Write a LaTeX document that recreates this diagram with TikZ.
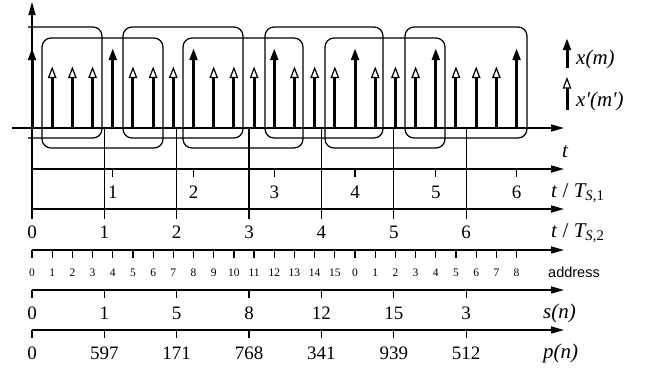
\documentclass[tikz,border=0pt]{standalone}
\usepackage{fontspec}
\setmainfont{Liberation Serif}
\newfontfamily\addrfont{Liberation Sans}
\usetikzlibrary{arrows.meta}
\begin{document}
\begin{tikzpicture}[x=1pt,y=-1pt,
  axis/.style={line width=1.6pt,-{Triangle[length=13pt,width=7pt]}},
  tickln/.style={line width=1.2pt},
  win/.style={line width=1.2pt,rounded corners=9pt},
  solidimp/.style={line width=3pt,-{Triangle[length=12pt,width=7.5pt]}},
  hollowimp/.style={line width=3pt,-{Triangle[open,length=11.5pt,width=8.5pt,line width=1.2pt,fill=white]}},
  num/.style={font=\fontsize{19}{19}\selectfont,inner sep=0pt},
  lbl/.style={font=\fontsize{21}{21}\selectfont\itshape,inner sep=0pt,anchor=west},
  smallnum/.style={font=\fontsize{11.5}{12}\selectfont,inner sep=0pt}
]
\useasboundingbox (0,0) rectangle (645,367);
% windows
\draw[win] (28,27) -- (102,27) -- (102,138) -- (28,138);
\draw[win] (123,27) rectangle (243,138);
\draw[win] (265,27) rectangle (383,138);
\draw[win] (405,27) rectangle (527,138);
\draw[win] (42,38) rectangle (163,148);
\draw[win] (183,38) rectangle (303,148);
\draw[win] (325,38) rectangle (445,148);
% main axes
\coordinate (o) at (32,128);
\coordinate (vbot) at (32,219);
\coordinate (vtop) at (32,2);
\draw[axis] (vbot) -- (vtop);
\coordinate (tl) at (12,128);
\coordinate (tr) at (564,128);
\draw[axis] (tl) -- (tr);
\node[lbl] (tlab) at (562,152) {t};
% impulses
\foreach \k in {0,...,24}{
  \pgfmathsetmacro{\xx}{32+20.19*\k}
  \pgfmathtruncatemacro{\m}{mod(\k,4)}
  \coordinate (b\k) at (\xx,128);
  \ifnum\m=0
    \coordinate (s\k) at (\xx,48);
    \draw[solidimp] (b\k) -- (s\k);
  \else
    \coordinate (s\k) at (\xx,66.5);
    \draw[hollowimp] (b\k) -- (s\k);
  \fi
}
% t/T_S,1 axis
\coordinate (a1l) at (32,169);
\coordinate (a1r) at (564,169);
\draw[axis] (a1l) -- (a1r);
\foreach \j in {1,...,6}{
  \pgfmathsetmacro{\xx}{32+80.75*\j}
  \coordinate (u\j) at (\xx,169);
  \coordinate (v\j) at (\xx,177);
  \draw[tickln] (u\j) -- (v\j);
  \node[num] (n1\j) at (\xx,192) {\j};
}
\node[lbl] (ts1) at (551,193) {t\/ \upshape/ \itshape T\textsubscript{\itshape S\upshape,1}};
% t/T_S,2 axis and long vertical lines
\coordinate (a2l) at (32,209);
\coordinate (a2r) at (564,209);
\draw[axis] (a2l) -- (a2r);
\foreach \j in {1,...,6}{
  \pgfmathsetmacro{\xx}{32+72.35*\j}
  \coordinate (w\j) at (\xx,128);
  \coordinate (z\j) at (\xx,219);
  \draw[tickln] (w\j) -- (z\j);
}
\foreach \j in {0,...,6}{
  \pgfmathsetmacro{\xx}{32+72.35*\j}
  \node[num] (n2\j) at (\xx,232) {\j};
}
\node[lbl] (ts2) at (551,233) {t\/ \upshape/ \itshape T\textsubscript{\itshape S\upshape,2}};
% address axis
\coordinate (adl) at (32,250);
\coordinate (adr) at (564,250);
\draw[axis] (adl) -- (adr);
\foreach \k in {0,...,24}{
  \pgfmathsetmacro{\xx}{32+20.19*\k}
  \pgfmathtruncatemacro{\aa}{mod(\k,16)}
  \coordinate (p\k) at (\xx,250);
  \coordinate (q\k) at (\xx,258);
  \draw[tickln] (p\k) -- (q\k);
  \node[smallnum] (ad\k) at (\xx,273) {\aa};
}
\node[font=\addrfont\fontsize{14.5}{15}\selectfont,inner sep=0pt,anchor=west] (addr) at (548,272) {address};
% s(n) axis
\coordinate (snl) at (32,290);
\coordinate (snr) at (564,290);
\draw[axis] (snl) -- (snr);
\foreach \j/\v in {0/0,1/1,2/5,3/8,4/12,5/15,6/3}{
  \pgfmathsetmacro{\xx}{32+72.35*\j}
  \coordinate (sa\j) at (\xx,290);
  \coordinate (sb\j) at (\xx,298);
  \draw[tickln] (sa\j) -- (sb\j);
  \node[num] (sv\j) at (\xx,313) {\v};
}
\node[lbl] (sn) at (543,313) {s(n)};
% p(n) axis
\coordinate (pnl) at (32,330);
\coordinate (pnr) at (564,330);
\draw[axis] (pnl) -- (pnr);
\foreach \j/\v in {0/0,1/597,2/171,3/768,4/341,5/939,6/512}{
  \pgfmathsetmacro{\xx}{32+72.35*\j}
  \coordinate (pa\j) at (\xx,330);
  \coordinate (pb\j) at (\xx,338);
  \draw[tickln] (pa\j) -- (pb\j);
  \node[num] (pv\j) at (\xx,353) {\v};
}
\node[lbl] (pn) at (543,353) {p(n)};
% legend
\coordinate (l1b) at (567,68);
\coordinate (l1t) at (567,38);
\draw[solidimp] (l1b) -- (l1t);
\node[lbl] (lx) at (576,59) {x(m)};
\coordinate (l2b) at (567,110);
\coordinate (l2t) at (567,77);
\draw[hollowimp] (l2b) -- (l2t);
\node[lbl] (lxp) at (576,101) {x\textquotesingle(m\textquotesingle)};
\end{tikzpicture}
\end{document}
